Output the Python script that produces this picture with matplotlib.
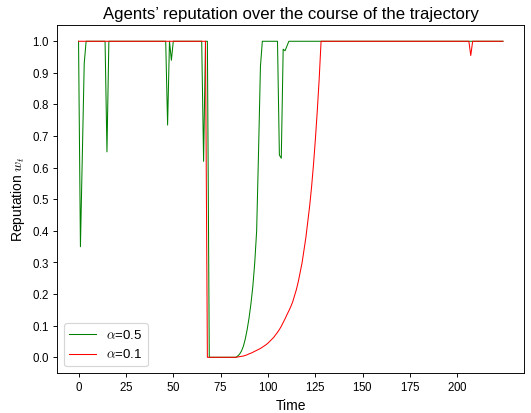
import matplotlib
matplotlib.use("Agg")
import matplotlib.pyplot as plt

plt.rcParams["mathtext.fontset"] = "cm"
plt.rcParams["axes.formatter.use_mathtext"] = True
plt.rcParams["font.family"] = ["Liberation Sans", "DejaVu Sans"]

# alpha = 0.5 (breakpoints of the trajectory)
t_a05 = [0, 1, 2, 3, 4, 14, 15, 16, 46, 47, 48, 49, 50, 65, 66, 67, 68, 69, 83,
         84, 85, 86, 87, 88, 89, 90, 91, 92, 93, 94, 95, 96, 97,
         105, 106, 107, 108, 109, 110, 111, 224]
w_a05 = [1.0, 0.35, 0.64, 0.93, 1.0, 1.0, 0.65, 1.0, 1.0, 0.735, 1.0, 0.94, 1.0, 1.0, 0.62, 1.0, 1.0, 0.0, 0.0,
         0.004, 0.01, 0.02, 0.035, 0.058, 0.088, 0.125, 0.17, 0.225, 0.3, 0.4, 0.65, 0.92, 1.0,
         1.0, 0.64, 0.63, 0.975, 0.97, 0.985, 1.0, 1.0]

# alpha = 0.1
t_a01 = [0, 67, 68, 83, 84, 85, 86, 87, 88, 89, 90, 91, 92, 93, 94, 95, 96, 97, 98, 99,
         100, 101, 102, 103, 104, 105, 106, 107, 108, 109, 110, 111, 112, 113, 114, 115,
         116, 117, 118, 119, 120, 121, 122, 123, 124, 125, 126, 127, 128, 206, 207, 208, 224]
w_a01 = [1.0, 1.0, 0.0, 0.0, 0.001, 0.002, 0.003, 0.004, 0.006, 0.008, 0.011, 0.013, 0.016, 0.019, 0.022, 0.025, 0.028, 0.032, 0.036, 0.04,
         0.045, 0.051, 0.057, 0.063, 0.071, 0.079, 0.088, 0.098, 0.11, 0.122, 0.135, 0.147, 0.16, 0.175, 0.195, 0.215,
         0.24, 0.27, 0.30, 0.34, 0.38, 0.43, 0.48, 0.54, 0.61, 0.69, 0.78, 0.88, 1.0, 1.0, 0.955, 1.0, 1.0]

fig = plt.figure(figsize=(6.4, 4.976), dpi=83)
ax = fig.add_axes([0.1079, 0.0966, 0.8789, 0.8417])
ax.plot(t_a05, w_a05, color="green", linewidth=0.9, label=r"$\alpha$=0.5")
ax.plot(t_a01, w_a01, color="red", linewidth=0.9, label=r"$\alpha$=0.1")

ax.set_title("Agents\u2019 reputation over the course of the trajectory", fontsize=14.5)
ax.set_xlabel("Time", fontsize=12)
ax.set_ylabel(r"Reputation $w_t$", fontsize=12)
ax.set_xticks([0, 25, 50, 75, 100, 125, 150, 175, 200])
ax.set_yticks([0.0, 0.1, 0.2, 0.3, 0.4, 0.5, 0.6, 0.7, 0.8, 0.9, 1.0])
ax.legend(loc="lower left", fontsize=11.5, handlelength=2.0)

fig.savefig("out.png", dpi=83)
